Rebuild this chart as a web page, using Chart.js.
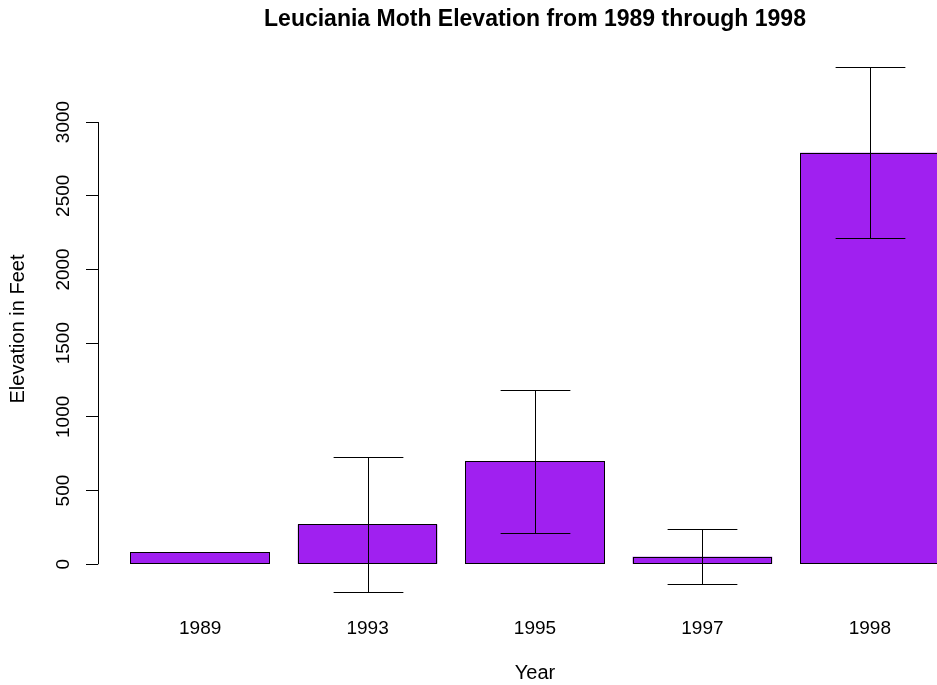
<!DOCTYPE html>
<html>
<head>
<meta charset="utf-8">
<title>Leuciania Moth Elevation</title>
<script src="https://cdn.jsdelivr.net/npm/chart.js@4.4.1/dist/chart.umd.min.js"></script>
<style>
  html, body { margin: 0; padding: 0; background: #fff; overflow: hidden; }
  #wrap { width: 980px; height: 685px; }
</style>
</head>
<body>
<div id="wrap"><canvas id="chart" width="980" height="685"></canvas></div>
<script>
// data
const years         = ['1989', '1993', '1995', '1997', '1998'];
const meanElevation = [80, 270, 698, 51, 2792];
const sdElevation   = [0, 456, 485, 186, 580];
const yTicks        = [0, 500, 1000, 1500, 2000, 2500, 3000];

// barplot() spacing: bar width 1, space 0.2
const barPos = years.map((_, i) => 0.7 + i * 1.2);

Chart.defaults.font.family = "'Liberation Sans', Arial, Helvetica, sans-serif";
Chart.defaults.color = '#000';

// vertical axis line only between first and last tick, like R's axis()
const axisLine = {
  id: 'axisLine',
  afterDraw(chart) {
    const { ctx, chartArea, scales: { y } } = chart;
    const x = Math.round(chartArea.left) + 0.5;
    ctx.save();
    ctx.strokeStyle = '#000';
    ctx.lineWidth = 1;
    ctx.beginPath();
    ctx.moveTo(x, y.getPixelForValue(yTicks[0]));
    ctx.lineTo(x, y.getPixelForValue(yTicks[yTicks.length - 1]));
    ctx.stroke();
    ctx.restore();
  }
};

// crisp black outline on each bar (pixel aligned)
const barOutline = {
  id: 'barOutline',
  afterDatasetsDraw(chart) {
    const { ctx, chartArea } = chart;
    const meta = chart.getDatasetMeta(0);
    ctx.save();
    ctx.beginPath();
    ctx.rect(chartArea.left, chartArea.top, chartArea.width, chartArea.height);
    ctx.clip();
    ctx.strokeStyle = '#000';
    ctx.lineWidth = 1;
    meta.data.forEach(bar => {
      const { x, y, base, width } = bar.getProps(['x', 'y', 'base', 'width'], true);
      const l = Math.round(x - width / 2) + 0.5;
      const r = Math.round(x + width / 2) - 0.5;
      const t = Math.round(y) + 0.5;
      const b = Math.round(base) - 0.5;
      ctx.strokeRect(l, t, r - l, b - t);
    });
    ctx.restore();
  }
};

// mean +/- sd whiskers
const errorBars = {
  id: 'errorBars',
  afterDatasetsDraw(chart) {
    const { ctx, scales: { y } } = chart;
    const meta = chart.getDatasetMeta(0);
    ctx.save();
    ctx.strokeStyle = '#000';
    ctx.lineWidth = 1;
    meta.data.forEach((bar, i) => {
      const sd = sdElevation[i];
      if (!sd) return;
      const x = Math.round(bar.x) + 0.5;
      const top = Math.round(y.getPixelForValue(meanElevation[i] + sd)) + 0.5;
      const bot = Math.round(y.getPixelForValue(meanElevation[i] - sd)) + 0.5;
      const half = bar.width / 4;
      ctx.beginPath();
      ctx.moveTo(x, top); ctx.lineTo(x, bot);
      ctx.moveTo(x - half, top); ctx.lineTo(x + half, top);
      ctx.moveTo(x - half, bot); ctx.lineTo(x + half, bot);
      ctx.stroke();
    });
    ctx.restore();
  }
};

new Chart(document.getElementById('chart'), {
  type: 'bar',
  data: {
    datasets: [{
      data: barPos.map((x, i) => ({ x, y: meanElevation[i] })),
      backgroundColor: '#A020F0',
      borderWidth: 0,
      barPercentage: 1 / 1.2,
      categoryPercentage: 1
    }]
  },
  options: {
    responsive: false,
    animation: false,
    layout: { padding: { left: 0, right: 8, top: 0, bottom: 0 } },
    plugins: {
      legend: { display: false },
      tooltip: { enabled: false },
      title: {
        display: true,
        fullSize: false,
        text: 'Leuciania Moth Elevation from 1989 through 1998',
        color: '#000',
        font: { size: 23, weight: 'bold' },
        padding: { top: 6, bottom: 12.4 }
      }
    },
    scales: {
      x: {
        type: 'linear',
        offset: false,
        min: -0.032,
        max: 6.232,
        afterBuildTicks: s => { s.ticks = barPos.map(v => ({ value: v })); },
        afterFit: s => { s.height = 73; },
        border: { display: false },
        grid: { display: false, drawTicks: false, offset: false },
        ticks: {
          autoSkip: false,
          maxRotation: 0,
          padding: 5,
          color: '#000',
          font: { size: 19 },
          callback: (v, i) => years[i]
        },
        title: { display: true, text: 'Year', color: '#000', font: { size: 20 }, padding: { top: 0, bottom: 0 } }
      },
      y: {
        min: -324,
        max: 3516,
        afterBuildTicks: s => { s.ticks = yTicks.map(v => ({ value: v })); },
        afterFit: s => { s.width = 98; },
        border: { display: false },
        grid: { drawOnChartArea: false, drawTicks: true, tickLength: 12, color: '#000', lineWidth: 1 },
        ticks: {
          minRotation: 90,
          maxRotation: 90,
          crossAlign: 'center',
          padding: 1,
          color: '#000',
          font: { size: 19 },
          callback: v => String(v)
        },
        title: { display: true, text: 'Elevation in Feet', color: '#000', font: { size: 20 }, padding: { top: 6, bottom: 0 } }
      }
    }
  },
  plugins: [axisLine, barOutline, errorBars]
});
</script>
</body>
</html>
